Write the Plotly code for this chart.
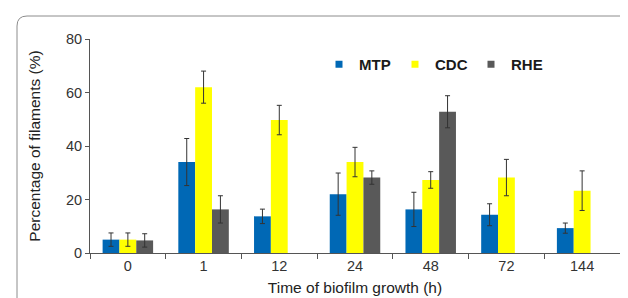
import plotly.graph_objects as go

categories = ["0", "1", "12", "24", "48", "72", "144"]
mtp = [5, 34, 13.7, 22, 16.3, 14.3, 9.3]
mtp_err = [2.5, 8.8, 2.7, 7.9, 6.4, 4.1, 1.9]
cdc = [5, 62, 49.7, 34, 27.3, 28.2, 23.3]
cdc_err = [2.5, 6, 5.5, 5.5, 3.1, 6.8, 7.4]
rhe = [4.7, 16.3, None, 28.2, 52.8, None, None]
rhe_err = [2.5, 5.1, None, 2.5, 6, None, None]
y_ticks = [0, 20, 40, 60, 80]

series = [("MTP", mtp, mtp_err, "#0068B5"),
          ("CDC", cdc, cdc_err, "#FFFF00"),
          ("RHE", rhe, rhe_err, "#595959")]

fig = go.Figure()
for name, vals, errs, col in series:
    fig.add_trace(go.Bar(
        x=categories, y=vals, name=name, showlegend=False,
        marker=dict(color=col, line=dict(width=0)),
        error_y=dict(type="data", array=errs, visible=True, color="#333333", thickness=1, width=2.5),
    ))
for name, vals, errs, col in series:
    fig.add_trace(go.Scatter(
        x=[None], y=[None], name=name, mode="markers",
        marker=dict(symbol="square", size=7, color=col),
    ))

L, R, T, B = 82, 16, 31, 53
W, H = 628, 298
pw, ph = W - L - R, H - T - B
def px(x): return (x - L) / pw
def py(y): return (H - B - y) / ph
left, right, top, bottom = px(9), px(625), py(8), py(310)
dx, dy = 10 / pw, 10 / ph
path = (f"M {left},{bottom} L {left},{top-dy} Q {left},{top} {left+dx},{top} "
        f"L {right-dx},{top} Q {right},{top} {right},{top-dy} L {right},{bottom}")

fig.update_layout(
    width=W, height=H,
    margin=dict(l=L, r=R, t=T, b=B),
    paper_bgcolor="white", plot_bgcolor="white",
    barmode="group", bargap=0.333, bargroupgap=0,
    font=dict(family="Arial, Liberation Sans, sans-serif", color="#333333", size=14),
    showlegend=True,
    legend=dict(orientation="h", x=px(311), y=py(40), xanchor="left", yanchor="top",
                font=dict(size=15, color="#1a1a1a", family="Arial, Liberation Sans, sans-serif", weight="bold"),
                itemwidth=30, traceorder="normal", bgcolor="rgba(0,0,0,0)",
                entrywidth=31, entrywidthmode="pixels"),
    shapes=[dict(type="path", xref="paper", yref="paper", path=path,
                 line=dict(color="#8c8c8c", width=1))],
)
fig.update_xaxes(
    type="category", showline=True, linecolor="#555555", linewidth=1,
    ticks="outside", tickson="boundaries", ticklen=5, tickcolor="#555555",
    tickfont=dict(size=14.5, color="#333333"),
    title=dict(text="Time of biofilm growth (h)", font=dict(size=15.5, color="#222222"), standoff=8),
    showgrid=False,
)
fig.update_yaxes(
    range=[0, 80], tickvals=y_ticks, showline=True, linecolor="#555555", linewidth=1,
    ticks="outside", ticklen=4, tickcolor="#555555",
    tickfont=dict(size=14.5, color="#333333"),
    title=dict(text="Percentage of filaments (%)", font=dict(size=15.5, color="#222222"), standoff=21),
    showgrid=False, zeroline=False,
)
fig.write_html("out.html")
